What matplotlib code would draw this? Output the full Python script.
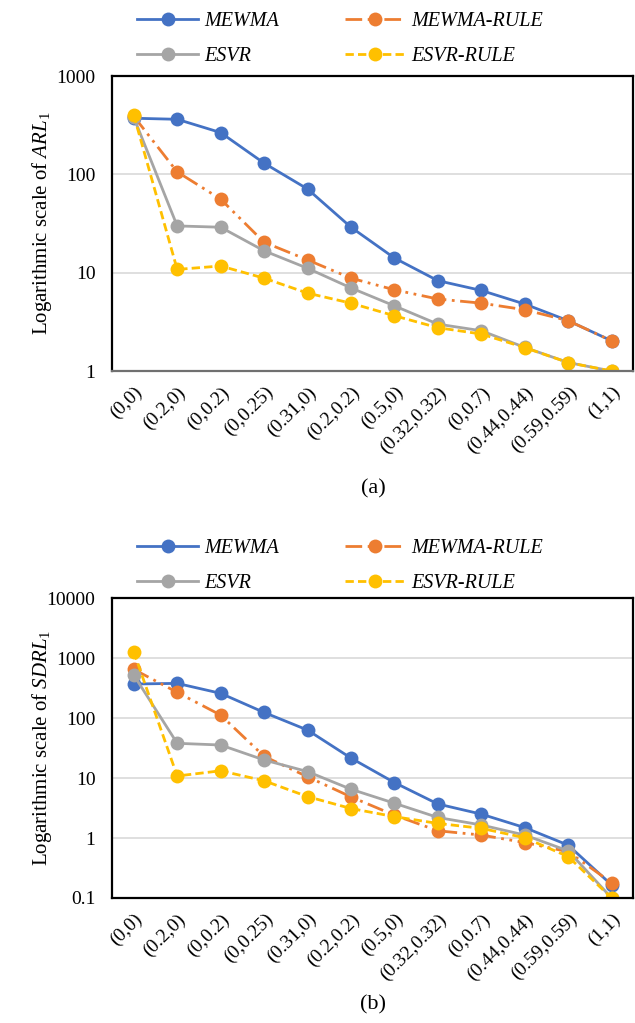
import matplotlib
matplotlib.use("Agg")
import matplotlib.pyplot as plt
from matplotlib.ticker import FixedLocator, NullLocator, FuncFormatter

plt.rcParams['font.family'] = ['Liberation Serif', 'DejaVu Serif']
plt.rcParams['mathtext.fontset'] = 'custom'
plt.rcParams['mathtext.rm'] = 'Liberation Serif'
plt.rcParams['mathtext.it'] = 'Liberation Serif:italic'

categories = ["(0,0)", "(0.2,0)", "(0,0.2)", "(0,0.25)", "(0.31,0)", "(0.2,0.2)",
              "(0.5,0)", "(0.32,0.32)", "(0,0.7)", "(0.44,0.44)", "(0.59,0.59)", "(1,1)"]

# Panel (a): ARL1
arl_mewma      = [372, 363, 266, 130, 71, 29, 14.1, 8.3, 6.6, 4.8, 3.25, 2.03]
arl_mewma_rule = [390, 106, 56, 20.4, 13.5, 8.8, 6.7, 5.4, 4.9, 4.2, 3.25, 2.03]
arl_esvr       = [380, 29.9, 29, 16.7, 11.1, 7.0, 4.6, 3.0, 2.57, 1.74, 1.22, 1.0]
arl_esvr_rule  = [402, 10.8, 11.7, 8.8, 6.2, 4.9, 3.65, 2.76, 2.38, 1.73, 1.22, 1.0]

# Panel (b): SDRL1
sdrl_mewma      = [369, 378, 258, 124, 63, 21.5, 8.4, 3.69, 2.5, 1.49, 0.76, 0.165]
sdrl_mewma_rule = [648, 268, 112, 23, 10.5, 4.85, 2.4, 1.32, 1.12, 0.84, 0.59, 0.18]
sdrl_esvr       = [521, 37.9, 35.5, 20, 12.8, 6.5, 3.8, 2.2, 1.65, 1.12, 0.61, 0.1]
sdrl_esvr_rule  = [1276, 10.8, 13.2, 9.0, 4.9, 3.1, 2.27, 1.75, 1.45, 1.01, 0.49, 0.10]

series_names = ["MEWMA", "MEWMA-RULE", "ESVR", "ESVR-RULE"]
colors = ["#4472C4", "#ED7D31", "#A5A5A5", "#FFC000"]
styles = ["-", (0, (6, 2, 1, 2, 1, 2)), "-", (0, (3, 1.5))]

fig = plt.figure(figsize=(6.35, 10.23), dpi=100)

def fmt(v, pos):
    if v >= 1:
        return f"{int(round(v))}"
    return f"{v:g}"

def panel(rect, data, ylim, yticks, ylabel, caption, cap_y, leg_y, bottom_color):
    ax = fig.add_axes(rect)
    x = list(range(len(categories)))
    handles = []
    for vals, name, c, ls in zip(data, series_names, colors, styles):
        h, = ax.plot(x, vals, color=c, linestyle=ls, linewidth=2.0,
                     marker='o', markersize=10, markeredgewidth=0, label=name)
        handles.append(h)
    ax.set_yscale('log')
    ax.set_ylim(*ylim)
    ax.set_xlim(-0.5, len(categories) - 0.5)
    ax.yaxis.set_major_locator(FixedLocator(yticks))
    ax.yaxis.set_minor_locator(NullLocator())
    ax.yaxis.set_major_formatter(FuncFormatter(fmt))
    ax.set_xticks(x)
    ax.set_xticklabels(categories, rotation=45, ha='right', rotation_mode='anchor')
    ax.tick_params(axis='both', length=0, labelsize=14)
    ax.tick_params(axis='y', pad=12)
    ax.tick_params(axis='x', pad=9)
    ax.grid(axis='y', which='major', color='#D9D9D9', linewidth=1.2)
    ax.set_axisbelow(True)
    for s in ax.spines.values():
        s.set_color('black')
        s.set_linewidth(1.6)
    ax.spines['bottom'].set_color(bottom_color)
    ax.set_ylabel(ylabel, fontsize=15)
    ax.yaxis.set_label_coords(-0.112, 0.5)
    fig.text(0.588, cap_y, caption, ha='center', va='center', fontsize=16)
    order = [0, 2, 1, 3]
    fig.legend(handles=[handles[i] for i in order], loc='center', bbox_to_anchor=(0.536, leg_y), ncol=2,
               frameon=False, prop={'style': 'italic', 'size': 14.5},
               handlelength=3.0, columnspacing=3.3, labelspacing=0.8, handletextpad=0.3)
    return ax

panel([0.1764, 0.6373, 0.821, 0.2884],
      [arl_mewma, arl_mewma_rule, arl_esvr, arl_esvr_rule],
      (1, 1000), [1, 10, 100, 1000],
      r"Logarithmic scale of $\mathit{ARL}_{\mathit{1}}$", "(a)", 1 - 489 / 1023, 1 - 39 / 1023,
      '#707070')

panel([0.1764, 0.1222, 0.821, 0.2932],
      [sdrl_mewma, sdrl_mewma_rule, sdrl_esvr, sdrl_esvr_rule],
      (0.1, 10000), [0.1, 1, 10, 100, 1000, 10000],
      r"Logarithmic scale of $\mathit{SDRL}_{\mathit{1}}$", "(b)", 1 - 1005 / 1023, 1 - 566 / 1023,
      'black')

fig.savefig("out.png", dpi=100)
